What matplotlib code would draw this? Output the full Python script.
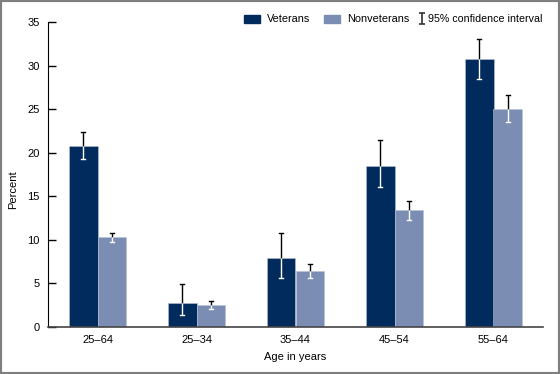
import numpy as np
import matplotlib
matplotlib.use('Agg')
import matplotlib.pyplot as plt
from matplotlib.patches import Patch, Rectangle

plt.rcParams['font.family'] = ['Liberation Sans', 'DejaVu Sans']

# Data
ages = ['25–64', '25–34', '35–44', '45–54', '55–64']
vet = [20.8, 2.7, 7.9, 18.5, 30.8]
vet_lo = [19.3, 1.4, 5.6, 16.1, 28.5]
vet_hi = [22.4, 4.9, 10.8, 21.5, 33.1]
nonvet = [10.3, 2.5, 6.4, 13.4, 25.0]
nonvet_lo = [9.8, 2.1, 5.6, 12.3, 23.5]
nonvet_hi = [10.8, 3.0, 7.2, 14.5, 26.6]

c_vet = '#002b5c'
c_non = '#7b8db2'

fig = plt.figure(figsize=(5.6, 3.74), dpi=100)
ax = fig.add_axes([48/560, 1 - 327/374, 495/560, 305/374])

x = np.arange(len(ages))
w = 0.29
cw = 0.02

def draw(xpos, vals, lo, hi, color):
    ax.bar(xpos, vals, width=w, color=color, edgecolor='#b8c2d6', linewidth=0.4)
    for xi, v, l, h in zip(xpos, vals, lo, hi):
        # part of the interval above the bar top in black, inside the bar in white
        ax.plot([xi, xi], [v, h], color='black', lw=1, solid_capstyle='butt')
        ax.plot([xi - cw, xi + cw], [h, h], color='black', lw=1)
        ax.plot([xi, xi], [l, v], color='white', lw=1, solid_capstyle='butt')
        ax.plot([xi - cw, xi + cw], [l, l], color='white', lw=1)

draw(x - w/2, vet, vet_lo, vet_hi, c_vet)
draw(x + w/2, nonvet, nonvet_lo, nonvet_hi, c_non)

ax.set_xlim(-0.5, 4.5)
ax.set_ylim(0, 35)
ax.set_yticks(range(0, 36, 5))
ax.set_xticks(x)
ax.set_xticklabels(ages)
ax.tick_params(axis='x', length=0, labelsize=8, pad=6)
ax.tick_params(axis='y', direction='in', length=6, width=1, labelsize=8, pad=6)
for s in ['top', 'right']:
    ax.spines[s].set_visible(False)
ax.spines['left'].set_color('black')
ax.spines['bottom'].set_color('#444444')
ax.spines['bottom'].set_linewidth(1.2)
ax.set_ylabel('Percent', fontsize=8)
ax.yaxis.set_label_coords(-0.06, 0.45)
ax.set_xlabel('Age in years', fontsize=8, labelpad=5)

# legends: bars and confidence interval symbol
leg1 = ax.legend([Patch(color=c_vet), Patch(color=c_non)], ['Veterans', 'Nonveterans'],
                 loc='upper right', bbox_to_anchor=((409 - 48) / 495, 1.025),
                 ncol=2, frameon=False, fontsize=7.8, handlelength=1.5,
                 handleheight=0.75, columnspacing=1.3, handletextpad=0.6,
                 borderpad=0, borderaxespad=0)
ax.add_artist(leg1)

ci = ax.errorbar([np.nan], [np.nan], yerr=[1], fmt='none', ecolor='#333333',
                 elinewidth=1.2, capsize=2, capthick=1.2)
ax.legend([ci], ['95% confidence interval'], loc='upper right',
          bbox_to_anchor=(1.0, 1.025), frameon=False, fontsize=7.7,
          handlelength=0.6, handletextpad=0.35, borderpad=0, borderaxespad=0)

# figure border
fig.patches.append(Rectangle((0, 0), 1, 1, transform=fig.transFigure,
                             fill=False, edgecolor='#7f7f7f', lw=3))

fig.savefig('out.png', dpi=100)
